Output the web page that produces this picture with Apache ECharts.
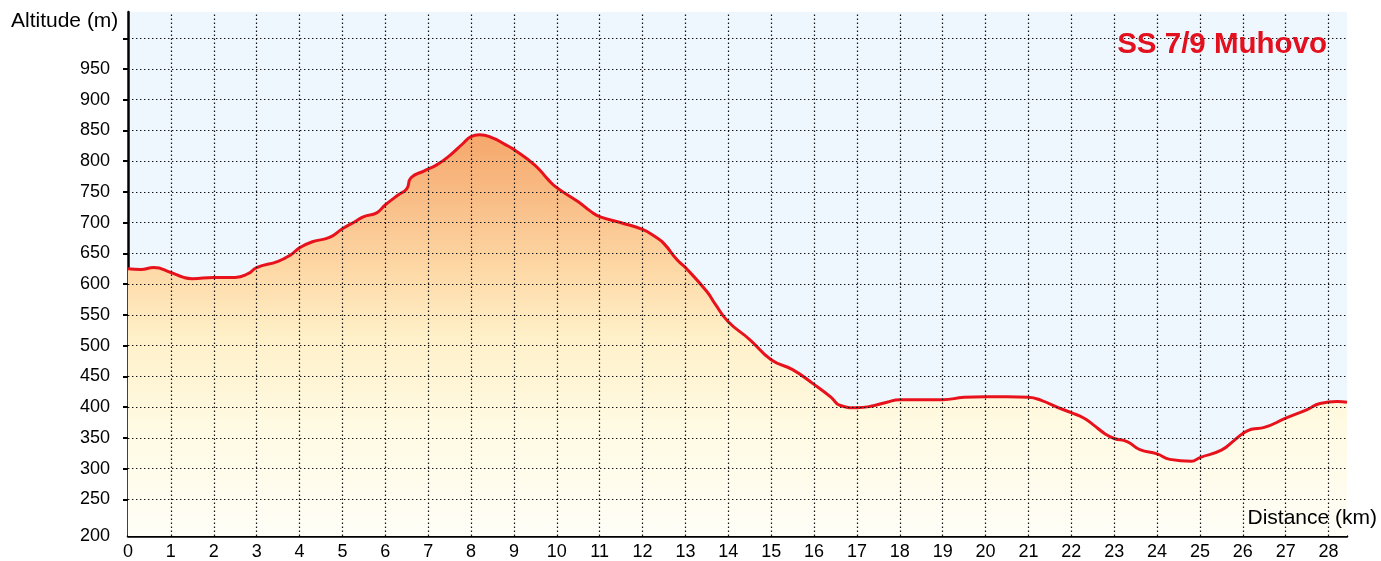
<!DOCTYPE html>
<html>
<head>
<meta charset="utf-8">
<script src="https://cdn.jsdelivr.net/npm/echarts@6/dist/echarts.min.js"></script>
<style>
html,body{margin:0;padding:0;background:#fff;}
#chart{width:1381px;height:561px;}
</style>
</head>
<body>
<div id="chart"></div>
<script>
// Data
var distanceKm = [0, 0.3, 0.6, 1.0, 1.3, 1.5, 2.0, 2.5, 2.8, 3.0, 3.5, 3.8, 4.0, 4.3, 4.7, 5.0, 5.3, 5.5, 5.8, 6.0, 6.3, 6.5, 6.6, 6.9, 7.2, 7.5, 7.8, 8.0, 8.2, 8.5, 8.8, 9.0, 9.5, 9.8, 10.0, 10.5, 10.8, 11.0, 11.5, 12.0, 12.3, 12.5, 12.8, 13.0, 13.5, 13.7, 14.0, 14.5, 15.0, 15.5, 16.0, 16.4, 16.6, 17.0, 17.3, 17.7, 18.0, 18.5, 19.0, 19.5, 20.0, 20.5, 21.0, 21.3, 21.7, 22.0, 22.3, 22.5, 22.8, 23.0, 23.3, 23.6, 24.0, 24.3, 24.8, 25.0, 25.5, 25.8, 26.0, 26.2, 26.5, 27.0, 27.5, 27.8, 28.2, 28.43];
var altitudeM = [625, 624, 627, 619, 611, 609, 611, 611, 617, 627, 637, 648, 659, 669, 676, 690, 702, 710, 716, 729, 745, 755, 773, 784, 794, 809, 828, 840, 843, 838, 827, 819, 793, 770, 757, 734, 718, 710, 700, 689, 677, 666, 640, 627, 588, 567, 539, 510, 477, 461, 437, 416, 403, 399, 401, 408, 412, 412, 412, 416, 417, 417, 416, 411, 399, 391, 382, 372, 356, 349, 344, 331, 324, 315, 312, 318, 330, 346, 357, 364, 367, 382, 396, 406, 409, 408];
var yTickValues = [250, 300, 350, 400, 450, 500, 550, 600, 650, 700, 750, 800, 850, 900, 950, 1000];
var yLabelValues = [250, 300, 350, 400, 450, 500, 550, 600, 650, 700, 750, 800, 850, 900, 950];
var xGridValues = [1,2,3,4,5,6,7,8,9,10,11,12,13,14,15,16,17,18,19,20,21,22,23,24,25,26,27,28];
var yAxisMin = 190.4, yAxisMax = 1042.7, xAxisMax = 28.43;
var bottomLabel = '200';
var titleText = 'SS 7/9 Muhovo';
var yName = 'Altitude (m)';
var xName = 'Distance (km)';

var points = distanceKm.map(function (d, i) { return [d, altitudeM[i]]; });
var font = '"Liberation Sans", Arial, Helvetica, sans-serif';
var dotted = { color: '#111111', width: 1.2, type: [1.4, 2.6] };

var markData = [];
yTickValues.forEach(function (v) { markData.push({ yAxis: v }); });
xGridValues.forEach(function (v) { markData.push({ xAxis: v }); });

var chart = echarts.init(document.getElementById('chart'), null, { renderer: 'canvas' });
chart.setOption({
  animation: false,
  backgroundColor: '#ffffff',
  textStyle: { fontFamily: font },
  grid: {
    left: 128, right: 34, top: 12, bottom: 24,
    show: true, backgroundColor: '#eef6fe', borderWidth: 0
  },
  xAxis: {
    type: 'value', min: 0, max: xAxisMax, interval: 1,
    axisLine: { show: true, onZero: false, lineStyle: { color: '#000', width: 2.5 } },
    axisTick: { show: false },
    splitLine: { show: false },
    axisLabel: {
      color: '#000', fontSize: 18, fontFamily: font, margin: 7,
      showMaxLabel: false,
      formatter: function (v) { return Math.abs(v - Math.round(v)) < 1e-6 ? String(Math.round(v)) : ''; }
    }
  },
  yAxis: {
    type: 'value', min: yAxisMin, max: yAxisMax,
    axisLine: { show: true, lineStyle: { color: '#000', width: 2.5 } },
    axisTick: { show: true, length: 5, customValues: yTickValues, lineStyle: { color: '#000', width: 2 } },
    splitLine: { show: false },
    axisLabel: {
      color: '#000', fontSize: 18, fontFamily: font, margin: 18,
      customValues: [yAxisMin].concat(yLabelValues),
      formatter: function (v) { return v < 200 ? bottomLabel : String(v); }
    }
  },
  graphic: [
    { type: 'text', left: 11, top: 11, z: 100, zlevel: 1, style: { text: yName, fontSize: 21, fontFamily: font, fill: '#000' } },
    { type: 'text', right: 4, top: 508, z: 100, zlevel: 1, style: { text: xName, fontSize: 21, fontFamily: font, fill: '#000' } },
    { type: 'text', right: 54, top: 30, z: 100, zlevel: 1, style: { text: titleText, fontSize: 29.5, fontWeight: 'bold', fontFamily: font, fill: '#e3101e' } }
  ],
  series: [
    {
      type: 'line', data: points, z: 2, smooth: 0.5, symbol: 'none', silent: true,
      lineStyle: { width: 0, opacity: 0 },
      areaStyle: {
        origin: 'start', opacity: 1,
        color: new echarts.graphic.LinearGradient(0, 0, 0, 1, [
          { offset: 0, color: '#f5a76b' },
          { offset: 0.18, color: '#f9c08a' },
          { offset: 0.32, color: '#fdd6a3' },
          { offset: 0.5, color: '#fff0c8' },
          { offset: 0.72, color: '#fffae2' },
          { offset: 1, color: '#fffef7' }
        ])
      },
      markLine: {
        silent: true, symbol: 'none', animation: false,
        label: { show: false },
        lineStyle: dotted,
        emphasis: { disabled: true },
        data: markData
      }
    },
    {
      type: 'line', data: points, z: 3, smooth: 0.5, symbol: 'none', silent: true,
      lineStyle: { color: '#e8121c', width: 3 }
    }
  ]
});
</script>
</body>
</html>
